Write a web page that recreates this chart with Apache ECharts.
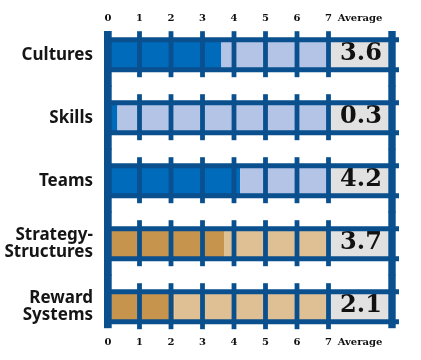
<!DOCTYPE html>
<html>
<head>
<meta charset="utf-8">
<script src="https://cdn.jsdelivr.net/npm/echarts@6/dist/echarts.min.js"></script>
<style>html,body{margin:0;padding:0;background:#fff;}#c{width:421px;height:360px;}</style>
</head>
<body>
<div id="c"></div>
<script>
var categories = ['Cultures', 'Skills', 'Teams', 'Strategy-\nStructures', 'Reward\nSystems'];
var values = [3.6, 0.3, 4.2, 3.7, 2.1];
var scaleMax = 7;
var xTickLabels = ['0', '1', '2', '3', '4', '5', '6', '7', 'Average', ''];
var groups = ['blue', 'blue', 'blue', 'tan', 'tan'];

var palette = {
  blue: { dark: '#006abb', light: '#b4c4e6' },
  tan: { dark: '#c6944c', light: '#dfc094' }
};
var lineColor = '#0a4f8e';

var chart = echarts.init(document.getElementById('c'), null, { renderer: 'canvas' });

function xLabel(v) { return xTickLabels[Math.round(v)] || ''; }

var axisLabelStyle = {
  fontFamily: 'DejaVu Serif', fontWeight: 'bold', fontSize: 10, color: '#111',
  verticalAlign: 'middle', formatter: xLabel
};

var option = {
  animation: false,
  grid: { left: 108, right: 29.5, top: 23.2, bottom: 21.8, containLabel: false },
  xAxis: [
    { type: 'value', min: 0, max: 9, interval: 1, position: 'bottom',
      axisLine: { show: false }, axisTick: { show: false }, splitLine: { show: false },
      axisLabel: Object.assign({ margin: 4.5 }, axisLabelStyle) },
    { type: 'value', min: 0, max: 9, interval: 1, position: 'top',
      axisLine: { show: false }, axisTick: { show: false }, splitLine: { show: false },
      axisLabel: Object.assign({ margin: 5 }, axisLabelStyle) }
  ],
  yAxis: {
    type: 'category', data: categories, inverse: true,
    axisLine: { show: false }, axisTick: { show: false }, splitLine: { show: false },
    axisLabel: { fontFamily: 'Noto Sans', fontWeight: 'bold', fontSize: 17, lineHeight: 17,
      color: '#151515', margin: 15 }
  },
  series: [
    { type: 'bar', stack: 's', barWidth: 27, z: 2,
      data: values.map(function (v, i) { return { value: v, itemStyle: { color: palette[groups[i]].dark } }; }) },
    { type: 'bar', stack: 's', barWidth: 27, z: 2,
      data: values.map(function (v, i) { return { value: scaleMax - v, itemStyle: { color: palette[groups[i]].light } }; }) },
    { type: 'bar', stack: 's', barWidth: 27, z: 2,
      data: values.map(function () { return { value: 9 - scaleMax, itemStyle: { color: '#e1e1e1' } }; }),
      label: { show: true, position: 'inside', offset: [1, -1],
        fontFamily: 'DejaVu Serif', fontWeight: 'bold', fontSize: 24, color: '#111',
        formatter: function (p) { return values[p.dataIndex].toFixed(1); } } },
    { type: 'custom', z: 10, silent: true,
      data: categories.map(function (c, i) { return [0, i]; }),
      renderItem: function (params, api) {
        var idx = api.value(1);
        var p0 = api.coord([0, idx]);
        var cy = p0[1];
        var x0 = p0[0];
        var unit = api.size([1, 0])[0];
        var x9 = api.coord([9, idx])[0];
        var last = categories.length - 1;
        var st = { fill: lineColor };
        var kids = [];
        kids.push({ type: 'rect', shape: { x: x0 - 4, y: cy - 17.5, width: x9 + 7.5 - (x0 - 4), height: 5 }, style: st });
        kids.push({ type: 'rect', shape: { x: x0 - 4, y: cy + 12.5, width: x9 + 7.5 - (x0 - 4), height: 5 }, style: st });
        for (var k = 1; k <= scaleMax; k++) {
          var xk = x0 + k * unit;
          kids.push({ type: 'rect', shape: { x: xk - 2.4, y: cy - 23.5, width: 4.8, height: 46 }, style: st });
        }
        var yTop = idx === 0 ? cy - 23.7 : cy - 32;
        var yBot = idx === last ? cy + 21.5 : cy + 32;
        kids.push({ type: 'rect', shape: { x: x0 - 4, y: yTop, width: 7.7, height: yBot - yTop }, style: st });
        kids.push({ type: 'rect', shape: { x: x9 - 3.2, y: yTop, width: 7.4, height: yBot - yTop }, style: st });
        return { type: 'group', children: kids };
      } }
  ]
};
chart.setOption(option);
</script>
</body>
</html>
